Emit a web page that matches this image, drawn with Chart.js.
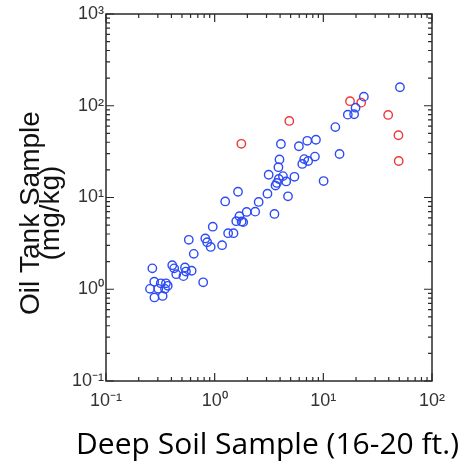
<!DOCTYPE html>
<html>
<head>
<meta charset="utf-8">
<script src="https://cdn.jsdelivr.net/npm/chart.js@4.4.1/dist/chart.umd.min.js"></script>
<style>
html, body { margin: 0; padding: 0; background: #fff; }
</style>
</head>
<body>
<canvas id="myChart" width="461" height="464"></canvas>
<script>
// deep soil (x) vs oil tank (y), mg/kg
const deepSoil = [50.7, 23.6, 19.8, 16.8, 19.2, 12.9, 4.07, 5.96, 7.11, 8.55,
    14.1, 3.95, 6.67, 7.25, 8.37, 6.40, 3.86, 3.14, 3.89, 4.25,
    4.55, 5.42, 3.63, 3.74, 10.06, 3.06, 4.73, 1.64, 1.25, 2.54,
    2.36, 3.55, 1.97, 1.69, 1.58, 1.77, 1.83, 0.96, 1.33, 1.49,
    1.17, 0.82, 0.853, 0.919, 0.578, 0.642, 0.267, 0.407, 0.424, 0.443,
    0.533, 0.516, 0.544, 0.614, 0.784, 0.278, 0.319, 0.356, 0.37, 0.254,
    0.303, 0.349, 0.279, 0.332];
const oilTank = [159, 125.7, 95.3, 80.0, 80.8, 58.5, 38.3, 36.2, 41.5, 42.6,
    29.8, 26.0, 26.2, 25.0, 27.9, 23.2, 21.4, 17.7, 15.9, 17.1,
    14.96, 16.8, 13.5, 14.4, 15.1, 11.0, 10.3, 11.55, 9.06, 8.94,
    7.01, 6.62, 6.96, 6.25, 5.52, 5.48, 5.39, 4.81, 4.08, 4.08,
    3.02, 3.58, 3.26, 2.89, 3.46, 2.43, 1.69, 1.83, 1.69, 1.46,
    1.73, 1.39, 1.56, 1.59, 1.19, 1.21, 1.16, 1.16, 1.09, 1.01,
    1.01, 1.01, 0.814, 0.845];
// red outliers
const deepSoilOut = [17.6, 22.3, 39.5, 4.86, 49.1, 1.76, 49.4];
const oilTankOut = [112.2, 108.1, 79.4, 68.3, 47.7, 38.5, 25.0];

const xTicks = [0.1, 1, 10, 100];
const yTicks = [0.1, 1, 10, 100, 1000];

const supMap = { '-': '\u207B', '0': '\u2070', '1': '\u00B9', '2': '\u00B2', '3': '\u00B3' };
function powLabel(v) {
    const e = Math.round(Math.log10(v));
    return '10' + String(e).split('').map(c => supMap[c]).join('');
}

function toPoints(xs, ys) {
    const pts = [];
    for (let i = 0; i < xs.length; i++) {
        pts.push({ x: xs[i], y: ys[i] });
    }
    return pts;
}

// box + inward tick marks on all four sides
const insideTicks = {
    id: 'insideTicks',
    afterDraw(chart) {
        const { ctx, chartArea: a, scales } = chart;
        ctx.save();
        ctx.strokeStyle = '#2a2a2a';
        ctx.lineWidth = 1.5;
        ctx.strokeRect(a.left, a.top, a.right - a.left, a.bottom - a.top);
        ctx.lineWidth = 1.2;
        const marks = (lo, hi) => {
            const out = [];
            for (let d = lo; d < hi; d++) {
                for (let k = 1; k < 10; k++) out.push({ v: k * Math.pow(10, d), major: k === 1 });
            }
            out.push({ v: Math.pow(10, hi), major: true });
            return out;
        };
        ctx.beginPath();
        marks(-1, 2).forEach(m => {
            const x = scales.x.getPixelForValue(m.v);
            const len = m.major ? 8 : 4;
            ctx.moveTo(x, a.bottom); ctx.lineTo(x, a.bottom - len);
            ctx.moveTo(x, a.top); ctx.lineTo(x, a.top + len);
        });
        marks(-1, 3).forEach(m => {
            const y = scales.y.getPixelForValue(m.v);
            const len = m.major ? 8 : 4;
            ctx.moveTo(a.left, y); ctx.lineTo(a.left + len, y);
            ctx.moveTo(a.right, y); ctx.lineTo(a.right - len, y);
        });
        ctx.stroke();
        ctx.restore();
    }
};

const ctx = document.getElementById('myChart').getContext('2d');

const myChart = new Chart(ctx, {
    type: 'scatter',
    data: {
        datasets: [
            {
                label: 'samples',
                data: toPoints(deepSoil, oilTank),
                borderColor: 'rgb(45, 75, 245)',
                backgroundColor: 'rgba(0,0,0,0)',
                borderWidth: 1.4,
                pointRadius: 4.2,
                pointHoverRadius: 4.2,
            },
            {
                label: 'outliers',
                data: toPoints(deepSoilOut, oilTankOut),
                borderColor: 'rgb(238, 55, 55)',
                backgroundColor: 'rgba(0,0,0,0)',
                borderWidth: 1.4,
                pointRadius: 4.2,
                pointHoverRadius: 4.2,
            },
        ],
    },
    options: {
        responsive: false,
        animation: false,
        devicePixelRatio: 1,
        layout: { padding: { top: 14, right: 2, left: 0, bottom: 0 } },
        plugins: {
            legend: { display: false },
            tooltip: { enabled: false },
            // x axis caption, set right-aligned under the plot like the original
            title: {
                display: true,
                position: 'bottom',
                align: 'end',
                text: 'Deep Soil Sample (16-20 ft.)',
                color: '#000',
                padding: { top: 0, bottom: 1 },
                font: { family: 'Open Sans', size: 30, weight: 'normal', lineHeight: 1.2 },
            },
        },
        scales: {
            x: {
                type: 'logarithmic',
                min: 0.1,
                max: 100,
                afterBuildTicks: s => { s.ticks = xTicks.map(v => ({ value: v })); },
                afterFit: s => { s.height = 46; s.paddingRight = 29; },
                grid: { drawOnChartArea: false, drawTicks: false },
                border: { display: false },
                ticks: {
                    callback: v => powLabel(v),
                    color: '#333',
                    padding: 9,
                    maxRotation: 0,
                    font: { family: 'Liberation Sans', size: 18 },
                },
            },
            y: {
                type: 'logarithmic',
                min: 0.1,
                max: 1000,
                afterBuildTicks: s => { s.ticks = yTicks.map(v => ({ value: v })); },
                afterFit: s => { s.width = 106; },
                grid: { drawOnChartArea: false, drawTicks: false },
                border: { display: false },
                ticks: {
                    callback: v => powLabel(v),
                    color: '#333',
                    padding: 2,
                    font: { family: 'Liberation Sans', size: 18 },
                },
                title: {
                    display: true,
                    text: ['Oil Tank Sample    ', '(mg/kg)    '],
                    color: '#111',
                    padding: { top: 21, bottom: 0 },
                    font: { family: 'Liberation Sans', size: 28, lineHeight: 0.72 },
                },
            },
        },
    },
    plugins: [insideTicks],
});
</script>
</body>
</html>
